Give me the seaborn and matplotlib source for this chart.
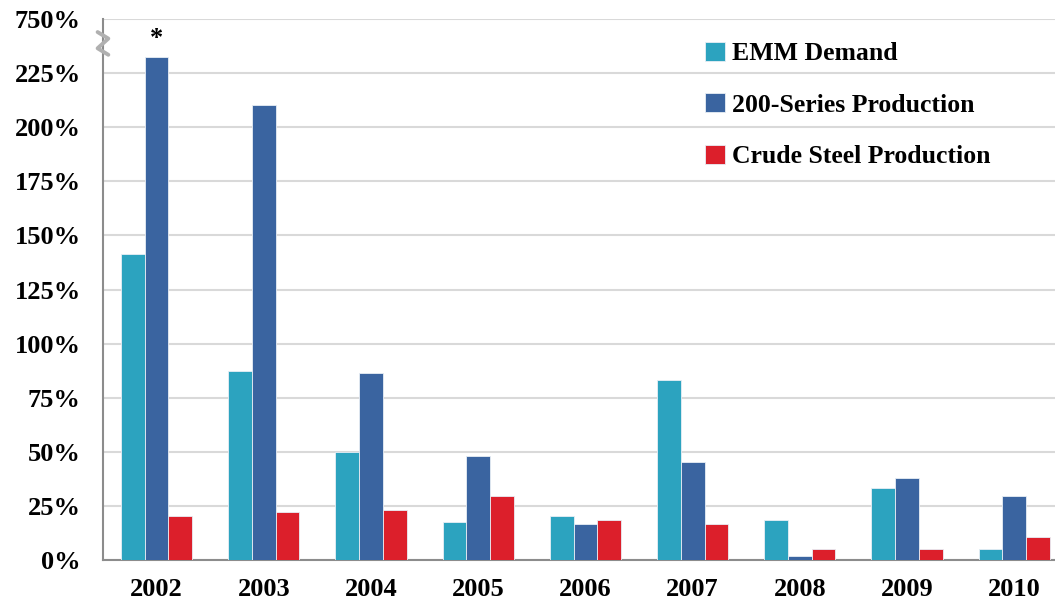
import matplotlib
matplotlib.use("Agg")
import matplotlib.pyplot as plt
import numpy as np
import pandas as pd
import seaborn as sns

years = ["2002", "2003", "2004", "2005", "2006", "2007", "2008", "2009", "2010"]
series_names = ["EMM Demand", "200-Series Production", "Crude Steel Production"]
emm_demand = [141.5, 87.2, 49.8, 17.5, 20.3, 83.0, 18.5, 33.2, 5.0]
series_200 = [232.5, 210.3, 86.3, 48.0, 16.6, 45.2, 1.8, 37.8, 29.5]
crude_steel = [20.3, 22.1, 23.0, 29.5, 18.5, 16.6, 5.0, 5.0, 10.6]
ytick_values = [0, 25, 50, 75, 100, 125, 150, 175, 200, 225, 250]
ytick_labels = ["0%", "25%", "50%", "75%", "100%", "125%", "150%", "175%",
                "200%", "225%", "750%"]
colors = ["#2CA3BF", "#3A64A0", "#DC1F2B"]

df = pd.DataFrame({
    "year": years * 3,
    "series": sum([[s] * len(years) for s in series_names], []),
    "value": emm_demand + series_200 + crude_steel,
})

sns.set_style("white")
plt.rcParams["font.family"] = ["Liberation Serif", "DejaVu Serif"]
plt.rcParams["font.weight"] = "bold"
plt.rcParams["text.color"] = "black"
plt.rcParams["xtick.labelcolor"] = "black"
plt.rcParams["ytick.labelcolor"] = "black"

fig = plt.figure(figsize=(10.55, 6.02), dpi=100)
ax = fig.add_axes([0.0976, 0.0698, 0.9024, 0.8985])

sns.barplot(data=df, x="year", y="value", hue="series", palette=colors,
            width=0.665, gap=0, edgecolor="#e8eef5", linewidth=0.6,
            saturation=1, ax=ax, zorder=3)

ax.set_ylim(0, 250)
ax.set_xlim(-0.5, 8.38)
ax.set_yticks(ytick_values)
ax.set_yticklabels(ytick_labels, fontsize=19, fontweight="bold", color="black")
ax.set_xticks(range(len(years)))
ax.set_xticklabels(years, fontsize=19, fontweight="bold", color="black")
ax.set_xticks(np.arange(len(years)) - 0.5, minor=True)
ax.tick_params(axis="x", which="major", length=0, pad=13)
ax.tick_params(axis="x", which="minor", length=8, width=1.5, color="#8c8c8c",
               direction="out")
ax.tick_params(axis="y", length=7, width=1.5, color="#8c8c8c", direction="out",
               pad=9)
ax.yaxis.grid(True, color="#d9d9d9", linewidth=1.5, zorder=0)
ax.set_axisbelow(True)
ax.set_xlabel("")
ax.set_ylabel("")
for side in ["top", "right"]:
    ax.spines[side].set_visible(False)
for side in ["left", "bottom"]:
    ax.spines[side].set_color("#8c8c8c")
    ax.spines[side].set_linewidth(1.5)

# axis break marker
ax.plot([-0.55, -0.45, -0.55, -0.45], [244, 241, 236.5, 233.5],
        color="#b0b0b0", linewidth=2.8, clip_on=False, zorder=5,
        solid_capstyle="round")

# asterisk above the broken bar
bar_2002 = ax.containers[1][0]
ax.annotate("*", (bar_2002.get_x() + bar_2002.get_width() / 2, 241),
            ha="center", va="center", fontsize=19, fontweight="bold")

leg = ax.legend(loc="upper left", bbox_to_anchor=(0.622, 0.977), frameon=False,
                fontsize=18.5, handlelength=0.75, handleheight=0.75,
                handletextpad=0.3, labelspacing=1.1, borderaxespad=0)
for t in leg.get_texts():
    t.set_fontweight("bold")
    t.set_color("black")

fig.savefig("out.png", dpi=100)
